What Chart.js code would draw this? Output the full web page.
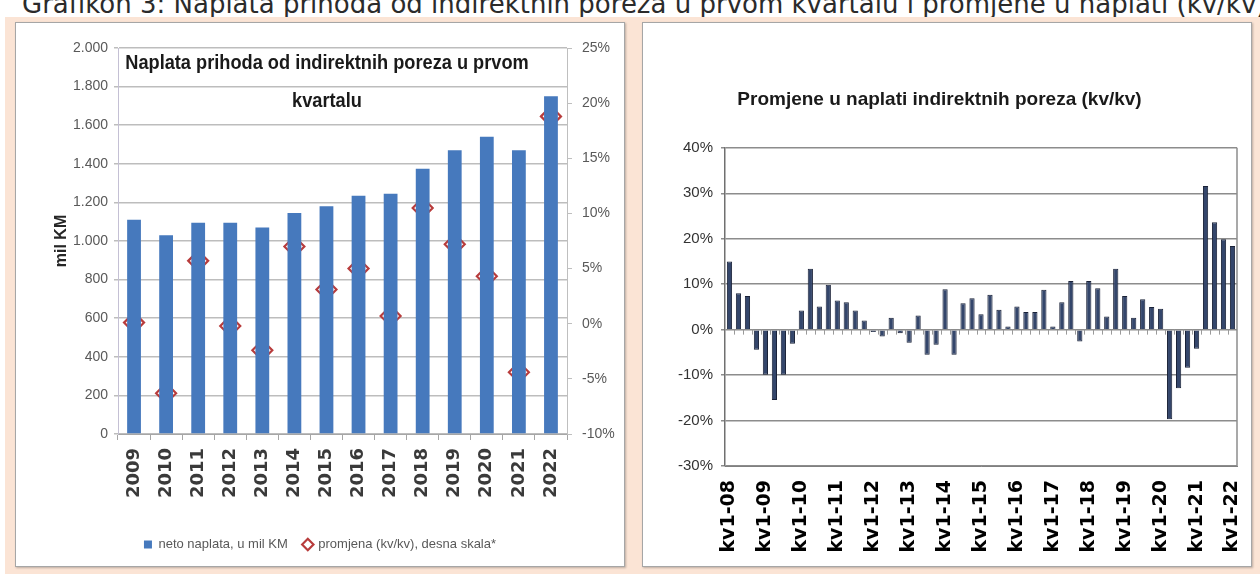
<!DOCTYPE html>
<html><head><meta charset="utf-8">
<script src="https://cdn.jsdelivr.net/npm/chart.js@4.4.1/dist/chart.umd.min.js"></script>
<style>
html,body{margin:0;padding:0;background:#fff;}
body{width:1260px;height:574px;position:relative;overflow:hidden;font-family:'DejaVu Sans',sans-serif;}
#caption{position:absolute;left:22px;top:-11px;font-size:26px;color:#2b2b2b;white-space:nowrap;line-height:normal;}
#bg{position:absolute;left:5px;top:17px;width:1255px;height:557px;background:#fbe4d5;}
.panel{position:absolute;top:22px;height:545px;width:610px;background:#fff;border:1px solid #a6a6a6;box-sizing:border-box;box-shadow:1px 1px 2px rgba(0,0,0,.25);}
.wrap{position:absolute;top:22px;width:610px;height:545px;}
#p1,#w1{left:15px;}
#p2,#w2{left:642px;}
#t1{position:absolute;left:77px;top:43px;width:500px;text-align:center;font-family:'Liberation Sans',Arial,sans-serif;font-weight:bold;font-size:20px;line-height:38px;color:#1a1a1a;transform:scaleX(0.91);transform-origin:50% 50%;}
</style></head>
<body>
<div id="caption">Grafikon 3: Naplata prihoda od indirektnih poreza u prvom kvartalu i promjene u naplati (kv/kv)</div>
<div id="bg"></div>
<div class="panel" id="p1"></div>
<div class="panel" id="p2"></div>
<div class="wrap" id="w1"><canvas id="c1" width="610" height="545"></canvas></div>
<div class="wrap" id="w2"><canvas id="c2" width="610" height="545"></canvas></div>
<div id="t1">Naplata prihoda od indirektnih poreza u prvom<br>kvartalu</div>
<script>
// ---- Left chart data ----
const years = ['2009','2010','2011','2012','2013','2014','2015','2016','2017','2018','2019','2020','2021','2022'];
const netCollection = [1110,1030,1095,1095,1070,1145,1180,1235,1245,1375,1470,1540,1470,1750];
const yoyChange = [0.1,-6.3,5.7,-0.2,-2.4,7.0,3.1,5.0,0.7,10.5,7.2,4.3,-4.4,18.8];
const leftSeriesNames = ['neto naplata, u mil KM','promjena (kv/kv), desna skala*'];
const leftAxisTitle = 'mil KM';

// ---- Right chart data ----
const quarters = [
 'kv1-08','kv2-08','kv3-08','kv4-08','kv1-09','kv2-09','kv3-09','kv4-09',
 'kv1-10','kv2-10','kv3-10','kv4-10','kv1-11','kv2-11','kv3-11','kv4-11',
 'kv1-12','kv2-12','kv3-12','kv4-12','kv1-13','kv2-13','kv3-13','kv4-13',
 'kv1-14','kv2-14','kv3-14','kv4-14','kv1-15','kv2-15','kv3-15','kv4-15',
 'kv1-16','kv2-16','kv3-16','kv4-16','kv1-17','kv2-17','kv3-17','kv4-17',
 'kv1-18','kv2-18','kv3-18','kv4-18','kv1-19','kv2-19','kv3-19','kv4-19',
 'kv1-20','kv2-20','kv3-20','kv4-20','kv1-21','kv2-21','kv3-21','kv4-21',
 'kv1-22'];
const quarterlyChange = [15.0,8.0,7.4,-4.4,-9.9,-15.5,-9.9,-3.1,4.2,13.4,5.1,9.9,6.4,6.0,4.2,2.0,
 -0.5,-1.5,2.6,-0.8,-2.9,3.1,-5.5,-3.3,8.9,-5.5,5.8,6.9,3.4,7.7,4.4,0.7,
 5.1,3.9,3.9,8.8,0.7,6.0,10.7,-2.6,10.7,9.1,2.9,13.4,7.4,2.6,6.7,5.0,
 4.6,-19.7,-12.9,-8.4,-4.2,31.6,23.6,19.9,18.4];
const rightTitle = 'Promjene u naplati indirektnih poreza (kv/kv)';

const SANS = "'Liberation Sans',Arial,sans-serif";
Chart.defaults.font.family = SANS;

function fmtThousands(v){
  const s = String(v);
  return s.length > 3 ? s.slice(0, s.length-3) + '.' + s.slice(-3) : s;
}

new Chart(document.getElementById('c1'), {
  data: {
    labels: years,
    datasets: [
      {type:'bar', label:leftSeriesNames[0], data:netCollection, yAxisID:'y',
       backgroundColor:'#4679bd', barPercentage:0.43, categoryPercentage:1, pointStyle:'rect'},
      {type:'line', label:leftSeriesNames[1], data:yoyChange, yAxisID:'y2', showLine:false,
       pointStyle:'rectRot', radius:10, pointRadius:10, pointBorderWidth:2.2,
       pointBorderColor:'#b83c3c', pointBackgroundColor:'#ffffff',
       borderColor:'#b83c3c', backgroundColor:'#ffffff'}
    ]
  },
  options: {
    responsive:false, animation:false,
    layout:{padding:{top:26, left:0, right:0, bottom:6}},
    plugins:{
      legend:{position:'bottom',
        labels:{usePointStyle:true, boxWidth:8, boxHeight:8, padding:16, color:'#595959',
          font:{size:13}, sort:(a,b)=>a.datasetIndex-b.datasetIndex}},
      tooltip:{enabled:false}
    },
    scales:{
      x:{
        grid:{display:true, drawOnChartArea:false, drawTicks:true, tickLength:6, color:'#a6a6a6'},
        border:{color:'#a6a6a6'},
        ticks:{maxRotation:90, minRotation:90, color:'#3a3a3a', padding:8,
          font:{family:'DejaVu Sans', weight:'bold', size:18}},
        afterFit:s=>{s.height=88;}
      },
      y:{
        position:'left', min:0, max:2000,
        ticks:{stepSize:200, callback:v=>fmtThousands(v), color:'#595959', font:{size:14}, padding:6},
        grid:{color:'#bdbdbd', lineWidth:1.5, tickLength:4},
        border:{color:'#c4c0d4'},
        title:{display:true, text:leftAxisTitle, color:'#262626', font:{size:16, weight:'bold'}, padding:{top:37, bottom:0}},
        afterFit:s=>{s.width=103;}
      },
      y2:{
        position:'right', min:-10, max:25,
        ticks:{stepSize:5, callback:v=>v+'%', color:'#595959', font:{size:14}, padding:10},
        grid:{drawOnChartArea:false, tickLength:5, color:'#bfbfbf'},
        border:{color:'#bfbfbf'},
        afterFit:s=>{s.width=58;}
      }
    }
  }
});

const plotFrame = {
  id:'plotFrame',
  afterDraw(chart){
    const {ctx, chartArea:a, scales} = chart;
    ctx.save();
    ctx.strokeStyle = '#8c8c8c'; ctx.lineWidth = 1.5;
    ctx.beginPath(); ctx.moveTo(a.right, a.top); ctx.lineTo(a.right, a.bottom); ctx.stroke();
    // small category tick marks on the zero line
    const y0 = scales.y.getPixelForValue(0);
    ctx.strokeStyle = '#9a9a9a'; ctx.lineWidth = 1;
    const xs = scales.x;
    for (let i = 0; i < quarters.length - 1; i++) {
      const xm = Math.round((xs.getPixelForValue(i) + xs.getPixelForValue(i+1)) / 2) + 0.5;
      ctx.beginPath(); ctx.moveTo(xm, y0); ctx.lineTo(xm, y0 + 5); ctx.stroke();
    }
    ctx.restore();
  }
};

new Chart(document.getElementById('c2'), {
  type:'bar',
  data:{
    labels:quarters,
    datasets:[{label:rightTitle, data:quarterlyChange, backgroundColor:'#34466b', borderColor:'#1a2238', borderWidth:1,
      barPercentage:0.58, categoryPercentage:1}]
  },
  options:{
    responsive:false, animation:false,
    layout:{padding:{top:0, right:15, left:0, bottom:0}},
    plugins:{
      legend:{display:false}, tooltip:{enabled:false},
      title:{display:true, text:rightTitle, color:'#1a1a1a',
        font:{family:SANS, size:19, weight:'bold'}, padding:{top:66, bottom:37}}
    },
    scales:{
      x:{
        grid:{display:true, drawOnChartArea:false, drawTicks:false},
        border:{display:true, color:'#808080'},
        ticks:{autoSkip:false, maxRotation:90, minRotation:90, color:'#000', padding:14,
          font:{family:'DejaVu Sans', weight:'bold', size:19},
          callback:function(v){ const l = this.getLabelForValue(v); return l.startsWith('kv1') ? l : ''; }},
        afterFit:s=>{s.height=101; s.paddingLeft=0; s.paddingRight=0;}
      },
      y:{
        min:-30, max:40,
        ticks:{stepSize:10, callback:v=>v+'%', color:'#333', padding:8,
          font:{family:SANS, size:15}},
        grid:{color:'#8c8c8c', lineWidth:1.5, tickLength:4},
        border:{color:'#707070', width:1.5},
        afterFit:s=>{s.width=83;}
      }
    }
  },
  plugins:[plotFrame]
});
</script>
</body></html>
